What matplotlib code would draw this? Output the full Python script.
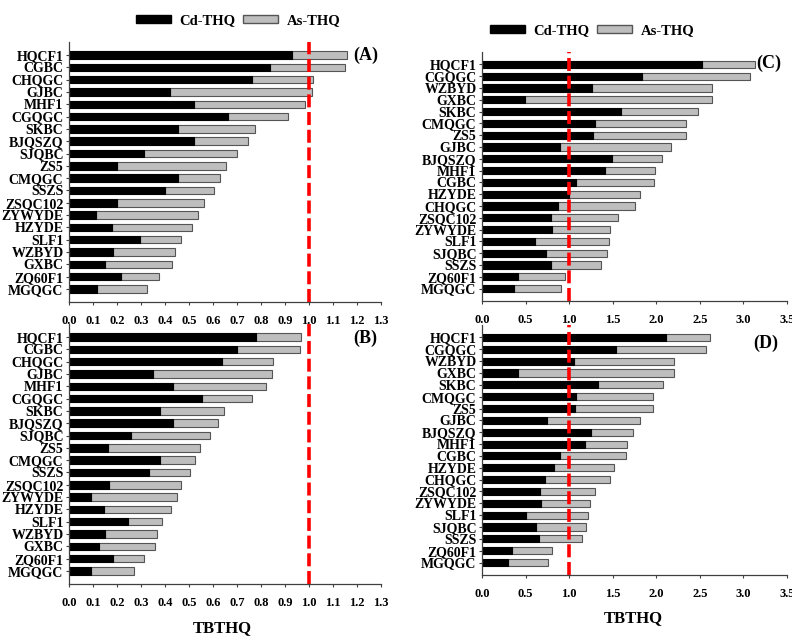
import matplotlib
matplotlib.use("Agg")
import matplotlib.pyplot as plt
from matplotlib.patches import Patch
import numpy as np

plt.rcParams['font.family'] = ['Liberation Serif', 'DejaVu Serif']
plt.rcParams['font.weight'] = 'bold'

# ---------------- data ----------------
labels_ab = ["HQCF1", "CGBC", "CHQGC", "GJBC", "MHF1", "CGQGC", "SKBC", "BJQSZQ",
             "SJQBC", "ZS5", "CMQGC", "SSZS", "ZSQC102", "ZYWYDE", "HZYDE", "SLF1",
             "WZBYD", "GXBC", "ZQ60F1", "MGQGC"]
cd_a = [0.93, 0.837, 0.764, 0.421, 0.519, 0.662, 0.454, 0.521, 0.311, 0.199,
        0.456, 0.401, 0.201, 0.112, 0.179, 0.296, 0.182, 0.150, 0.218, 0.115]
total_a = [1.158, 1.151, 1.017, 1.011, 0.983, 0.912, 0.776, 0.744, 0.701, 0.653,
           0.629, 0.604, 0.562, 0.537, 0.512, 0.465, 0.443, 0.430, 0.376, 0.324]
cd_b = [0.778, 0.700, 0.636, 0.350, 0.432, 0.554, 0.378, 0.435, 0.260, 0.164,
        0.379, 0.335, 0.167, 0.092, 0.147, 0.244, 0.149, 0.124, 0.182, 0.093]
total_b = [0.968, 0.962, 0.851, 0.846, 0.822, 0.762, 0.646, 0.621, 0.586, 0.546,
           0.525, 0.503, 0.467, 0.449, 0.425, 0.387, 0.367, 0.358, 0.312, 0.269]

labels_cd = ["HQCF1", "CGQGC", "WZBYD", "GXBC", "SKBC", "CMQGC", "ZS5", "GJBC",
             "BJQSZQ", "MHF1", "CGBC", "HZYDE", "CHQGC", "ZSQC102", "ZYWYDE", "SLF1",
             "SJQBC", "SSZS", "ZQ60F1", "MGQGC"]
cd_c = [2.52, 1.836, 1.265, 0.494, 1.59, 1.295, 1.272, 0.897, 1.487, 1.407,
        1.073, 0.997, 0.874, 0.797, 0.805, 0.606, 0.740, 0.790, 0.414, 0.368]
total_c = [3.13, 3.078, 2.637, 2.637, 2.484, 2.346, 2.346, 2.173, 2.066, 1.989,
           1.978, 1.809, 1.755, 1.556, 1.472, 1.460, 1.430, 1.368, 0.951, 0.905]
cd_d = [2.115, 1.538, 1.054, 0.408, 1.335, 1.077, 1.062, 0.742, 1.246, 1.180,
        0.900, 0.830, 0.727, 0.662, 0.673, 0.504, 0.615, 0.650, 0.342, 0.304]
total_d = [2.62, 2.573, 2.208, 2.208, 2.077, 1.960, 1.960, 1.815, 1.730, 1.660,
           1.650, 1.510, 1.465, 1.300, 1.238, 1.219, 1.196, 1.146, 0.800, 0.754]

ticks_ab = [0.0, 0.1, 0.2, 0.3, 0.4, 0.5, 0.6, 0.7, 0.8, 0.9, 1.0, 1.1, 1.2, 1.3]
ticks_cd = [0.0, 0.5, 1.0, 1.5, 2.0, 2.5, 3.0, 3.5]
threshold = 1.0

W, H = 792, 637
fig = plt.figure(figsize=(W / 100, H / 100), dpi=100)

def ax_at(x0, y0, x1, y1):
    return fig.add_axes([x0 / W, 1 - y1 / H, (x1 - x0) / W, (y1 - y0) / H])

BLACK = "#000000"
GREY = "#BEBEBE"
SPINE = "#404040"

def panel(ax, labels, cd, total, ticks, xmax, tag, tagpos):
    n = len(labels)
    y = np.arange(n)[::-1]
    cd = np.array(cd)
    total = np.array(total)
    ax.barh(y, total - cd, left=cd, height=0.6, color=GREY, edgecolor="#555555", linewidth=0.8)
    ax.barh(y, cd, height=0.6, color=BLACK, edgecolor=BLACK, linewidth=0.8)
    ax.axvline(threshold, color="#FF0000", lw=2.6, dashes=(3.6, 1.3))
    ax.set_xlim(0, xmax)
    ax.set_ylim(-1.05, n - 1 + 1.05)
    ax.set_yticks(y)
    ax.set_yticklabels(labels, fontsize=10, fontweight='bold')
    ax.set_xticks(ticks)
    ax.set_xticklabels([f"{t:.1f}" for t in ticks], fontsize=9, fontweight='bold')
    for s in ["top", "right"]:
        ax.spines[s].set_visible(False)
    for s in ["left", "bottom"]:
        ax.spines[s].set_color(SPINE)
        ax.spines[s].set_linewidth(0.9)
    ax.tick_params(axis='y', length=2.5, pad=1.5, color=SPINE, width=0.8)
    ax.tick_params(axis='x', length=2.5, pad=7, color=SPINE, width=0.8)
    ax.text(tagpos[0], tagpos[1], tag, transform=ax.transAxes, fontsize=13,
            fontweight='bold', ha='left', va='center')

axA = ax_at(69, 42, 381, 302)
axB = ax_at(69, 324, 381, 584)
axC = ax_at(482, 52, 787, 301)
axD = ax_at(482, 325, 787, 575)

panel(axA, labels_ab, cd_a, total_a, ticks_ab, 1.3, "(A)", (284 / 312, 1 - 13 / 260))
panel(axB, labels_ab, cd_b, total_b, ticks_ab, 1.3, "(B)", (284 / 312, 1 - 14 / 260))
panel(axC, labels_cd, cd_c, total_c, ticks_cd, 3.5, "(C)", (274 / 305, 1 - 11 / 249))
panel(axD, labels_cd, cd_d, total_d, ticks_cd, 3.5, "(D)", (271 / 305, 1 - 18 / 250))

handles = [Patch(facecolor=BLACK, edgecolor=BLACK, label="Cd-THQ"),
           Patch(facecolor=GREY, edgecolor="#555555", label="As-THQ")]
for cx, cy in [(238, 21), (592, 31)]:
    fig.legend(handles=handles, loc='center', bbox_to_anchor=(cx / W, 1 - cy / H),
               ncol=2, frameon=False, fontsize=10.5, handlelength=2.4, handleheight=0.5,
               handletextpad=0.6, columnspacing=0.5, prop={'weight': 'bold', 'size': 10.5})

fig.text(222 / W, 1 - 628 / H, "TBTHQ", ha='center', va='center', fontsize=12, fontweight='bold')
fig.text(633 / W, 1 - 618 / H, "TBTHQ", ha='center', va='center', fontsize=12, fontweight='bold')

fig.savefig("out.png", dpi=100)
